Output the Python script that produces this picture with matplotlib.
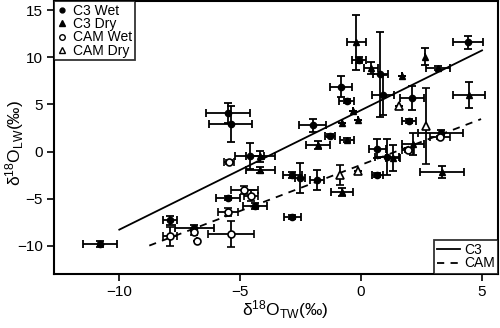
import matplotlib
matplotlib.use("Agg")
import matplotlib.pyplot as plt
from matplotlib.lines import Line2D

plt.rcParams['font.family'] = ['Liberation Sans', 'DejaVu Sans']
plt.rcParams['mathtext.fontset'] = 'custom'
plt.rcParams['mathtext.rm'] = 'Liberation Sans'
plt.rcParams['mathtext.it'] = 'Liberation Sans:italic'

# C3 Wet: x, y, xerr, yerr
c3w_x = [-10.8, -7.9, -6.9, -5.5, -4.4, -5.5, -5.4, -4.6, -2.0, -0.83, -0.6, -0.08, 0.8, 0.92, 2.1, 4.42, 3.3, 1.98, 0.66, 1.07, 0.66, -2.85, -2.85, -1.28, -2.52, -1.83]
c3w_y = [-9.8, -7.3, -8.1, -4.9, -5.8, 4.1, 2.9, -0.5, 2.8, 6.9, 5.4, 9.75, 8.2, 6.0, 5.7, 11.6, 1.95, 3.27, 0.3, -0.6, -2.5, -2.5, -6.95, 1.7, -2.8, -3.0]
c3w_xe = [0.7, 0.3, 0.8, 0.5, 0.5, 0.9, 0.9, 0.6, 0.55, 0.45, 0.3, 0.3, 0.3, 0.45, 0.5, 0.62, 0.93, 0.3, 0.35, 0.5, 0.23, 0.4, 0.35, 0.2, 0.2, 0.3]
c3w_ye = [0.3, 0.5, 0.3, 0.2, 0.3, 1.1, 1.9, 1.4, 0.7, 1.1, 0.2, 0.3, 4.5, 2.1, 1.3, 0.7, 0.3, 0.2, 1.0, 1.9, 0.2, 0.3, 0.2, 0.2, 1.6, 1.05]

# C3 Dry
c3d_x = [-0.2, 0.41, -0.8, -0.33, -0.12, -0.58, -1.78, 1.69, 2.64, 3.18, 4.46, 2.15, 3.35, -4.17, -4.17, -0.8, 1.32]
c3d_y = [11.6, 8.9, 3.05, 4.3, 3.37, 1.24, 0.7, 8.04, 10.1, 8.9, 6.0, 0.8, -2.16, -0.5, -1.95, -4.3, -0.67]
c3d_xe = [0.4, 0.3, 0, 0, 0, 0.3, 0.5, 0, 0, 0.5, 0.68, 0.47, 0.9, 0.6, 0.6, 0.45, 0.3]
c3d_ye = [2.9, 0.65, 0, 0, 0, 0.2, 0.4, 0, 0.95, 0.2, 1.35, 1.2, 0.65, 0.6, 0.3, 0.4, 1.4]

# CAM Wet
camw_x = [-7.9, -6.9, -6.8, -5.5, -5.37, -4.83, -4.55, -5.45, 1.94, 3.26]
camw_y = [-9.0, -8.5, -9.5, -6.4, -8.76, -4.07, -4.7, -1.1, 0.2, 1.5]
camw_xe = [0.3, 0, 0, 0.4, 0.95, 0.55, 0.3, 0.2, 0.25, 0.4]
camw_ye = [1.0, 0.4, 0, 0.4, 1.4, 0.4, 0.6, 0.2, 0.2, 0.2]

# CAM Dry
camd_x = [1.57, 2.68, -0.12, -0.87]
camd_y = [4.85, 2.7, -2.05, -2.5]
camd_xe = [0, 0, 0, 0]
camd_ye = [0, 4.0, 0, 1.1]

# regression lines
c3_fit = {'slope': 1.27, 'intercept': 4.4, 'xmin': -10.0, 'xmax': 5.0}
cam_fit = {'slope': 0.98, 'intercept': -1.41, 'xmin': -8.76, 'xmax': 4.96}

fig = plt.figure(figsize=(5.0, 3.28), dpi=100)
ax = fig.add_axes([0.108, 0.165, 0.888, 0.832])

ekw = dict(ecolor='black', elinewidth=1.3, capsize=3.2, capthick=1.3, linestyle='none', zorder=2)
ax.errorbar(c3w_x, c3w_y, xerr=c3w_xe, yerr=c3w_ye, fmt='o', ms=4.5, mfc='black', mec='black', **ekw)
ax.errorbar(c3d_x, c3d_y, xerr=c3d_xe, yerr=c3d_ye, fmt='^', ms=5, mfc='black', mec='black', **ekw)
ax.errorbar(camw_x, camw_y, xerr=camw_xe, yerr=camw_ye, fmt='o', ms=5, mfc='white', mec='black', mew=1.2, **ekw)
ax.errorbar(camd_x, camd_y, xerr=camd_xe, yerr=camd_ye, fmt='^', ms=6, mfc='white', mec='black', mew=1.2, **ekw)

for fit, ls in ((c3_fit, '-'), (cam_fit, (0, (4, 3.5)))):
    xs = [fit['xmin'], fit['xmax']]
    ys = [fit['intercept'] + fit['slope'] * v for v in xs]
    ax.plot(xs, ys, color='black', lw=1.3, linestyle=ls, zorder=1)

ax.set_xlim(-12.7, 5.66)
ax.set_ylim(-13.0, 16.0)
ax.set_xticks([-10, -5, 0, 5])
ax.set_yticks([-10, -5, 0, 5, 10, 15])
ax.tick_params(direction='out', length=5, width=1.2, labelsize=11, pad=3)
for s in ax.spines.values():
    s.set_linewidth(1.5)

ax.set_xlabel('δ$^{18}$O$_{\\mathrm{TW}}$(‰)', fontsize=12.5)
ax.set_ylabel('δ$^{18}$O$_{\\mathrm{LW}}$(‰)', fontsize=12.5)
ax.xaxis.set_label_coords(0.52, -0.088)
ax.yaxis.set_label_coords(-0.062, 0.48)

h1 = [Line2D([], [], marker='o', ls='none', ms=3.5, mfc='black', mec='black'),
      Line2D([], [], marker='^', ls='none', ms=4, mfc='black', mec='black'),
      Line2D([], [], marker='o', ls='none', ms=4, mfc='white', mec='black', mew=1.0),
      Line2D([], [], marker='^', ls='none', ms=5, mfc='white', mec='black', mew=1.0)]
leg1 = ax.legend(h1, ['C3 Wet', 'C3 Dry', 'CAM Wet', 'CAM Dry'], loc='upper left',
                 fontsize=10, frameon=True, fancybox=False, borderaxespad=0, handlelength=0.7,
                 handletextpad=0.45, labelspacing=-0.05, borderpad=0.2)
leg1.get_frame().set_edgecolor('black')
leg1.get_frame().set_linewidth(1.3)
ax.add_artist(leg1)

h2 = [Line2D([], [], color='black', lw=1.3),
      Line2D([], [], color='black', lw=1.3, ls=(0, (4, 3.5)))]
leg2 = ax.legend(h2, ['C3', 'CAM'], loc='lower right', fontsize=10, frameon=True, fancybox=False,
                 borderaxespad=0, handlelength=1.6, handletextpad=0.3, labelspacing=-0.05, borderpad=0.25)
leg2.get_frame().set_edgecolor('black')
leg2.get_frame().set_linewidth(1.3)

fig.savefig('out.png', dpi=100)
